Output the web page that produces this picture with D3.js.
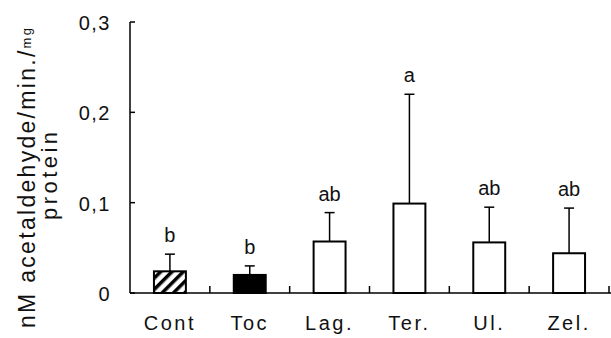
<!DOCTYPE html>
<html>
<head>
<meta charset="utf-8">
<script src="https://cdn.jsdelivr.net/npm/d3@7"></script>
<style>
  body { margin: 0; background: #fff; }
  text { font-family: "Liberation Sans", Arial, "Noto Sans CJK KR", sans-serif; fill: #111; }
</style>
</head>
<body>
<div id="chart"></div>
<script>
var categories = ["Cont", "Toc", "Lag.", "Ter.", "Ul.", "Zel."];
var means = [0.024, 0.020, 0.057, 0.099, 0.056, 0.044];
var upperErr = [0.019, 0.010, 0.032, 0.121, 0.039, 0.050];
var sigLetters = ["b", "b", "ab", "a", "ab", "ab"];
var yTicks = [0, 0.1, 0.2, 0.3];

var svgWidth = 611, svgHeight = 338;
var plotLeft = 130, plotRight = 609, plotTop = 22, plotBottom = 293;

var svg = d3.select('#chart')
    .append('svg')
    .attr('width', svgWidth)
    .attr('height', svgHeight);

// diagonal hatch for the control bar
var defs = svg.append('defs');
defs.append('pattern')
    .attr('id', 'hatch')
    .attr('patternUnits', 'userSpaceOnUse')
    .attr('width', 8)
    .attr('height', 8)
    .attr('patternTransform', 'rotate(45)')
  .append('rect')
    .attr('x', 0).attr('y', 0)
    .attr('width', 3.5).attr('height', 8)
    .attr('fill', '#000');

var x = d3.scaleBand().domain(categories).range([plotLeft, plotRight]).padding(0);
var y = d3.scaleLinear().domain([0, 0.3]).range([plotBottom, plotTop]);
var barW = x.bandwidth() * 0.4;

function fillFor(i) {
    if (i === 0) return 'url(#hatch)';
    if (i === 1) return '#000';
    return '#fff';
}

// error bars (upper only)
var eb = svg.append('g').attr('stroke', '#000').attr('stroke-width', 1.5);
categories.forEach(function(c, i) {
    var cx = x(c) + x.bandwidth() / 2;
    eb.append('line')
        .attr('x1', cx).attr('x2', cx)
        .attr('y1', y(means[i])).attr('y2', y(means[i] + upperErr[i]));
    eb.append('line')
        .attr('x1', cx - 5).attr('x2', cx + 5)
        .attr('y1', y(means[i] + upperErr[i])).attr('y2', y(means[i] + upperErr[i]));
});

// bars
svg.append('g').selectAll('rect')
    .data(categories)
    .enter().append('rect')
    .attr('x', function(d) { return x(d) + (x.bandwidth() - barW) / 2; })
    .attr('y', function(d, i) { return y(means[i]); })
    .attr('width', barW)
    .attr('height', function(d, i) { return y(0) - y(means[i]); })
    .attr('fill', function(d, i) { return fillFor(i); })
    .attr('stroke', '#000')
    .attr('stroke-width', 2);

// significance letters
svg.append('g').selectAll('text')
    .data(categories)
    .enter().append('text')
    .attr('x', function(d) { return x(d) + x.bandwidth() / 2; })
    .attr('y', function(d, i) { return y(means[i] + upperErr[i]) - 12; })
    .attr('text-anchor', 'middle')
    .style('font-size', '20px')
    .text(function(d, i) { return sigLetters[i]; });

// y axis
var yAxis = svg.append('g').attr('stroke', '#000').attr('stroke-width', 1.5);
yAxis.append('line')
    .attr('x1', plotLeft).attr('x2', plotLeft)
    .attr('y1', y(0.3)).attr('y2', y(0));
yAxis.selectAll('line.tick')
    .data(yTicks)
    .enter().append('line')
    .attr('class', 'tick')
    .attr('x1', plotLeft).attr('x2', plotLeft + 5)
    .attr('y1', function(d) { return y(d); })
    .attr('y2', function(d) { return y(d); });

svg.append('g').selectAll('text')
    .data(yTicks)
    .enter().append('text')
    .attr('x', 111)
    .attr('y', function(d) { return y(d) + 8; })
    .attr('text-anchor', 'end')
    .style('font-size', '20px')
    .style('letter-spacing', '1.5px')
    .text(function(d) { return d === 0 ? '0' : d.toFixed(1).replace('.', ','); });

// x axis
var xAxis = svg.append('g').attr('stroke', '#000').attr('stroke-width', 1.5);
xAxis.append('line')
    .attr('x1', plotLeft).attr('x2', svgWidth)
    .attr('y1', y(0)).attr('y2', y(0));
xAxis.selectAll('line.tick')
    .data(categories)
    .enter().append('line')
    .attr('class', 'tick')
    .attr('x1', function(d) { return x(d) + x.bandwidth(); })
    .attr('x2', function(d) { return x(d) + x.bandwidth(); })
    .attr('y1', y(0)).attr('y2', y(0) - 7);

svg.append('g').selectAll('text')
    .data(categories)
    .enter().append('text')
    .attr('x', function(d) { return x(d) + x.bandwidth() / 2; })
    .attr('y', 330)
    .attr('text-anchor', 'middle')
    .style('font-size', '20px')
    .style('letter-spacing', '2.5px')
    .text(function(d) { return d; });

// y title, two lines
var title = svg.append('g');
var line1 = title.append('text')
    .attr('transform', 'translate(35,178) rotate(-90)')
    .attr('text-anchor', 'middle')
    .attr('textLength', 300)
    .attr('lengthAdjust', 'spacing')
    .style('font-size', '23px');
line1.append('tspan').text('nM acetaldehyde/min./');
line1.append('tspan').style('font-size', '13px').attr('dy', -4).text('mg');
title.append('text')
    .attr('transform', 'translate(57,176) rotate(-90)')
    .attr('text-anchor', 'middle')
    .attr('textLength', 88)
    .attr('lengthAdjust', 'spacing')
    .style('font-size', '22px')
    .text('protein');
</script>
</body>
</html>
